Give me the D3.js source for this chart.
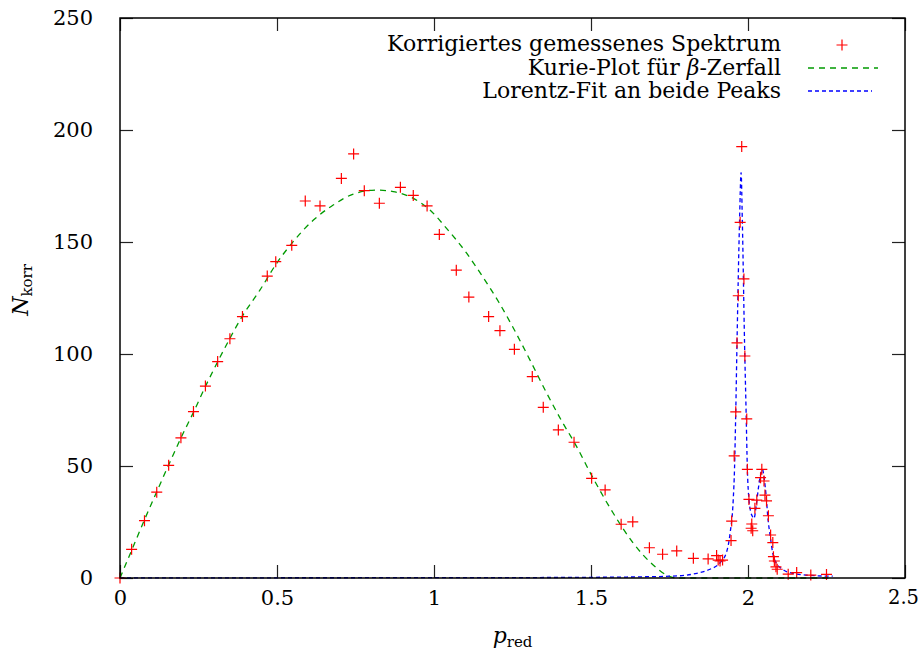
<!DOCTYPE html>
<meta charset="utf-8">
<body style="margin:0;background:#fff">
<script src="https://cdn.jsdelivr.net/npm/d3@7"></script>
<script>
var margin = {top: 18, right: 15, bottom: 74, left: 120},
    width = 920 - margin.left - margin.right,
    height = 652 - margin.top - margin.bottom;

// measured spectrum (p_red, N_korr)
var pMeas = [0, 0.037, 0.078, 0.117, 0.155, 0.194, 0.234, 0.272, 0.311, 0.350, 0.390,
  0.469, 0.496, 0.547, 0.590, 0.637, 0.705, 0.744, 0.778, 0.826, 0.893, 0.934, 0.978,
  1.017, 1.071, 1.111, 1.174, 1.210, 1.256, 1.313, 1.348, 1.396, 1.446, 1.502, 1.545,
  1.596, 1.633, 1.686, 1.728, 1.773, 1.826, 1.873, 1.900, 1.905, 1.911, 1.919,
  1.946, 1.948, 1.956, 1.961, 1.965, 1.969, 1.975, 1.980, 1.987, 1.990, 1.996, 1.998,
  2.003, 2.012, 2.010, 2.015, 2.022, 2.028, 2.040, 2.044, 2.051, 2.054, 2.059, 2.065,
  2.072, 2.079, 2.081, 2.084, 2.089, 2.093, 2.128, 2.155, 2.200, 2.250];
var nMeas = [0, 12.8, 25.6, 38.3, 50.3, 62.6, 74.3, 85.7, 96.6, 106.8, 116.7,
  134.8, 141.2, 148.5, 168.3, 166.1, 178.4, 189.3, 172.9, 167.3, 174.4, 170.8, 166.1,
  153.4, 137.4, 125.4, 116.7, 110.4, 102.1, 89.9, 76.2, 66.1, 60.6, 44.5, 39.3,
  24.0, 25.1, 13.5, 10.6, 12.1, 8.8, 8.5, 10.0, 8.0, 7.6, 8.0,
  16.7, 25.4, 54.5, 74.2, 105, 126, 158.8, 192.6, 133.5, 99.1, 71, 48.5,
  35.1, 24.1, 22.2, 21.1, 31.1, 34.8, 44.8, 48.5, 43.3, 37, 34.4, 27.8,
  19.2, 15.8, 9.5, 7.6, 5.0, 3.9, 1.7, 2.4, 1.3, 1.6];

// Kurie fit curve
var pKurie = [0, 0.039, 0.078, 0.117, 0.155, 0.194, 0.234, 0.272, 0.311, 0.350, 0.390,
  0.446, 0.499, 0.547, 0.616, 0.679, 0.743, 0.817, 0.870, 0.934, 0.987, 1.040, 1.104,
  1.155, 1.207, 1.253, 1.305, 1.359, 1.405, 1.449, 1.507, 1.571, 1.635, 1.698, 1.752,
  1.775, 2.27];
var nKurie = [0, 13, 26, 38.5, 50.5, 62.5, 74, 85.5, 96.5, 107, 117,
  128.6, 140.5, 149.4, 159.8, 166.5, 171.4, 173.2, 172.5, 169.5, 164.3, 156.1, 145,
  134.5, 123, 111.5, 97.5, 82.5, 70.5, 60, 44.5, 28.9, 15.5, 5.8, 0.6,
  0, 0];

// Lorentz fit for the two peaks
var pLorentz = [0, 0.5, 1.0, 1.3, 1.5, 1.65, 1.75, 1.80, 1.837, 1.879, 1.911, 1.932,
  1.943, 1.953, 1.957, 1.961, 1.965, 1.973, 1.978, 1.982, 1.989, 1.994, 1.998, 2.003,
  2.008, 2.014, 2.019, 2.026, 2.033, 2.040, 2.046, 2.052, 2.058, 2.063, 2.071, 2.079,
  2.090, 2.106, 2.132, 2.185, 2.217, 2.27];
var nLorentz = [0.05, 0.1, 0.15, 0.2, 0.3, 0.5, 0.8, 1.2, 2.1, 3.9, 6.8, 11.7,
  20, 35, 48.5, 74, 105, 159, 181, 159, 105, 74, 48.5, 35,
  30, 27.5, 26.6, 32, 40, 46, 48.5, 44, 36.3, 27.4, 18.4, 11,
  6.6, 4.3, 2.4, 1.3, 1.0, 0.8];

var xTicks = [0, 0.5, 1, 1.5, 2, 2.5];
var yTicks = [0, 50, 100, 150, 200, 250];
var legendLabels = ["Korrigiertes gemessenes Spektrum", "Kurie-Plot für β-Zerfall", "Lorentz-Fit an beide Peaks"];

var font = "DejaVu Serif";

var x = d3.scaleLinear().domain([0, 2.5]).range([0, width]);
var y = d3.scaleLinear().domain([0, 250]).range([height, 0]);

var svg = d3.select("body").append("svg")
    .attr("width", 920)
    .attr("height", 652)
    .attr("font-family", font)
  .append("g")
    .attr("transform", "translate(" + margin.left + "," + margin.top + ")");

// ticks on all four sides, pointing inward
var xAx = svg.append("g")
    .attr("transform", "translate(0," + height + ")")
    .call(d3.axisBottom(x).tickValues(xTicks).tickSize(-13).tickPadding(12).tickFormat(d3.format("")))
    .call(g => g.select(".domain").remove());
svg.append("g")
    .call(d3.axisTop(x).tickValues(xTicks).tickSize(-13).tickFormat(""))
    .call(g => g.select(".domain").remove());
svg.append("g")
    .call(d3.axisLeft(y).tickValues(yTicks).tickSize(-13).tickPadding(27))
    .call(g => g.select(".domain").remove());
svg.append("g")
    .attr("transform", "translate(" + width + ",0)")
    .call(d3.axisRight(y).tickValues(yTicks).tickSize(-13).tickFormat(""))
    .call(g => g.select(".domain").remove());

svg.selectAll(".tick line").attr("stroke", "#222").attr("stroke-width", 1.2);
svg.selectAll(".tick text").attr("font-size", 21).attr("font-family", font).attr("fill", "#000");
// last x label sits at the window edge, keep it inside
xAx.selectAll(".tick text").filter(d => d == 2.5).attr("font-size", 19.5).attr("dx", -2);

var lineK = d3.line().x((d, i) => x(pKurie[i])).y(d => y(d)).curve(d3.curveMonotoneX);
var lineL = d3.line().x((d, i) => x(pLorentz[i])).y(d => y(d)).curve(d3.curveMonotoneX);

svg.append("path").datum(nKurie)
    .attr("d", lineK)
    .attr("fill", "none").attr("stroke", "#009a00").attr("stroke-width", 1.3)
    .attr("stroke-dasharray", "6,5");
svg.append("path").datum(nLorentz)
    .attr("d", lineL)
    .attr("fill", "none").attr("stroke", "#0000ff").attr("stroke-width", 1.3)
    .attr("stroke-dasharray", "4,3");

// plus markers
function plus(sel) {
  sel.append("path")
    .attr("d", "M-5.5,0H5.5M0,-5.5V5.5")
    .attr("stroke", "#ff0000").attr("stroke-width", 1.2).attr("fill", "none");
}
svg.selectAll(".pt").data(nMeas).enter().append("g")
    .attr("class", "pt")
    .attr("transform", (d, i) => "translate(" + x(pMeas[i]) + "," + y(d) + ")")
    .call(plus);

// frame
svg.append("rect")
    .attr("width", width).attr("height", height)
    .attr("fill", "none").attr("stroke", "#000").attr("stroke-width", 1.5);

// legend
var leg = svg.append("g").attr("font-size", 22);
legendLabels.forEach(function(t, i) {
  var ty = 33 + i * 23.5;
  var txt = leg.append("text").attr("x", 661).attr("y", ty).attr("text-anchor", "end");
  if (i == 1) {
    txt.append("tspan").text("Kurie-Plot für ");
    txt.append("tspan").attr("font-style", "italic").text("β");
    txt.append("tspan").text("-Zerfall");
  } else {
    txt.text(t);
  }
});
leg.append("g").attr("transform", "translate(722,27)").call(plus);
leg.append("line").attr("x1", 688).attr("x2", 758).attr("y1", 50).attr("y2", 50)
    .attr("stroke", "#009a00").attr("stroke-width", 1.3).attr("stroke-dasharray", "6,5");
leg.append("line").attr("x1", 688).attr("x2", 752).attr("y1", 73).attr("y2", 73)
    .attr("stroke", "#0000ff").attr("stroke-width", 1.3).attr("stroke-dasharray", "4,3");

// axis labels
var xl = svg.append("text").attr("x", width / 2).attr("y", height + 65)
    .attr("text-anchor", "middle").attr("font-size", 22);
xl.append("tspan").attr("font-style", "italic").text("p");
xl.append("tspan").attr("font-size", 15).attr("dy", 4).text("red");

var yl = svg.append("text")
    .attr("transform", "translate(-92," + (height / 2 - 8) + ") rotate(-90)")
    .attr("text-anchor", "middle").attr("font-size", 22);
yl.append("tspan").attr("font-style", "italic").text("N");
yl.append("tspan").attr("font-size", 15).attr("dy", 4).text("korr");
</script>
</body>
